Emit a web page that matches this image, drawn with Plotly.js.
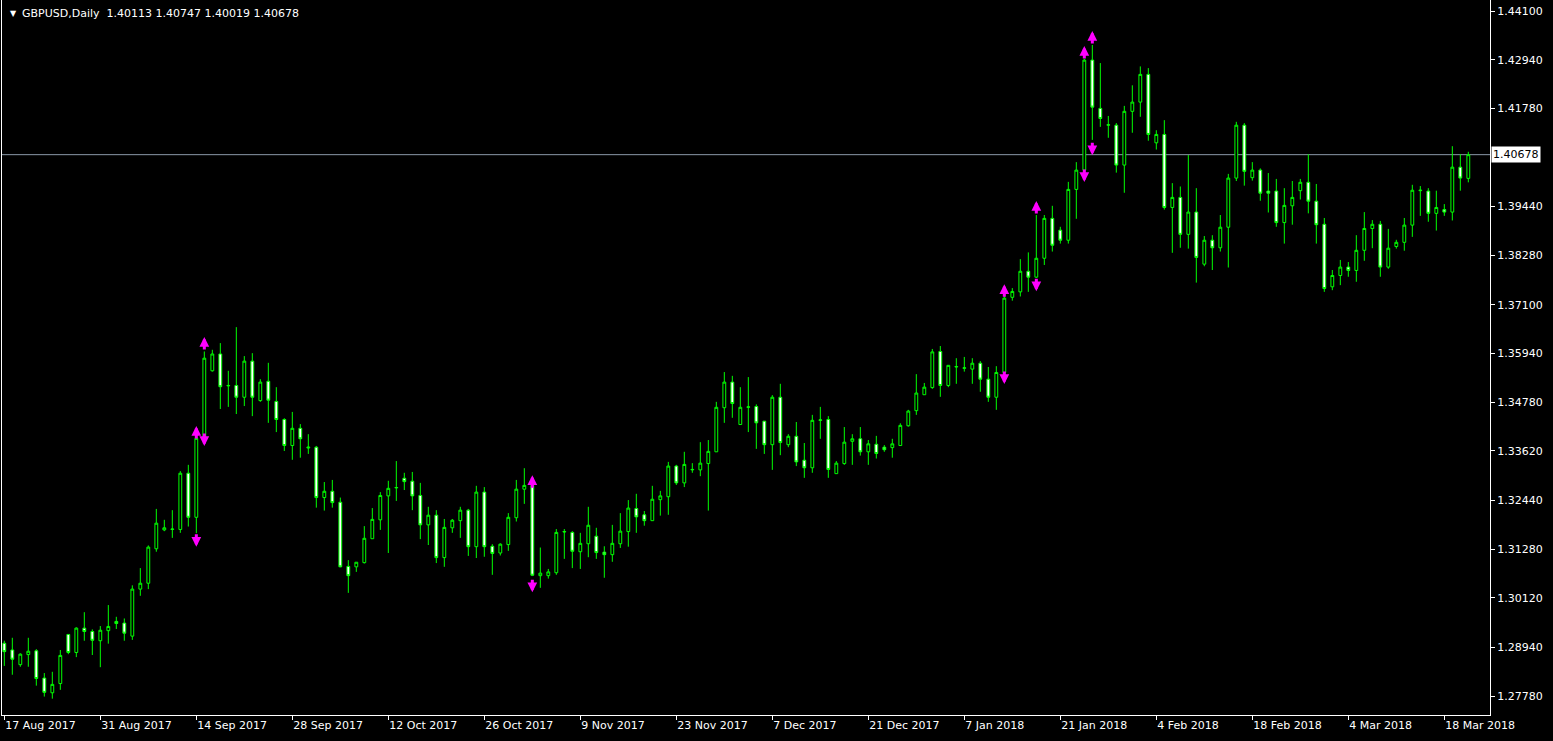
<!DOCTYPE html>
<html><head><meta charset="utf-8">
<script src="https://cdn.plot.ly/plotly-3.0.1.min.js"></script>
<style>html,body{margin:0;padding:0;background:#000;overflow:hidden}#chart{width:1553px;height:741px}</style>
</head><body><div id="chart"></div>
<script>
const symbolName = 'GBPUSD,Daily';
const lastOHLC = [1.40113, 1.40747, 1.40019, 1.40678];
const lastPrice = 1.40678;

const openP = [1.2904,1.2888,1.2853,1.2877,1.2886,1.2821,1.2786,1.2808,1.2925,1.2882,
1.2940,1.2932,1.2910,1.2934,1.2956,1.2952,1.2921,1.3033,1.3047,1.3129,
1.3174,1.3175,1.3175,1.3309,1.3204,1.3392,1.3553,1.3593,1.3517,1.3518,
1.3490,1.3576,1.3482,1.3528,1.3480,1.3437,1.3375,1.3416,1.3369,1.3371,
1.3251,1.3266,1.3240,1.3087,1.3086,1.3096,1.3153,1.3198,1.3255,1.3274,
1.3297,1.3290,1.3256,1.3186,1.3209,1.3108,1.3179,1.3196,1.3221,1.3134,
1.3264,1.3135,1.3119,1.3139,1.3203,1.3271,1.3280,1.3065,1.3065,1.3072,
1.3169,1.3168,1.3122,1.3141,1.3159,1.3121,1.3115,1.3141,1.3170,1.3225,
1.3210,1.3196,1.3246,1.3253,1.3326,1.3286,1.3317,1.3317,1.3332,1.3360,
1.3465,1.3526,1.3425,1.3466,1.3468,1.3433,1.3377,1.3490,1.3377,1.3397,
1.3340,1.3322,1.3435,1.3437,1.3308,1.3332,1.3385,1.3391,1.3360,1.3378,
1.3371,1.3370,1.3375,1.3422,1.3458,1.3496,1.3513,1.3599,1.3518,1.3562,
1.3559,1.3557,1.3571,1.3533,1.3490,1.3549,1.3728,1.3741,1.3790,1.3776,
1.3821,1.3916,1.3888,1.3864,1.3985,1.4031,1.4293,1.4178,1.4138,1.4138,
1.4043,1.4171,1.4193,1.4259,1.4096,1.4116,1.3942,1.3966,1.3878,1.3931,
1.3807,1.3864,1.3846,1.3895,1.4012,1.4138,1.4013,1.4031,1.3981,1.3981,
1.3906,1.3946,1.3982,1.4002,1.3957,1.3902,1.3753,1.3780,1.3800,1.3792,
1.3840,1.3892,1.3902,1.3800,1.3849,1.3859,1.3900,1.3982,1.3981,1.3928,
1.3937,1.3931,1.4038,1.40113];

const highP = [1.2910,1.2917,1.2880,1.2917,1.2890,1.2833,1.2836,1.2888,1.2925,1.2942,
1.2978,1.2937,1.2945,1.2995,1.2967,1.2963,1.3042,1.3083,1.3137,1.3224,
1.3198,1.3221,1.3314,1.3329,1.3396,1.3599,1.3603,1.3619,1.3553,1.3657,
1.3588,1.3595,1.3533,1.3572,1.3514,1.3440,1.3455,1.3426,1.3402,1.3374,
1.3288,1.3293,1.3251,1.3102,1.3097,1.3183,1.3226,1.3264,1.3291,1.3338,
1.3310,1.3312,1.3286,1.3229,1.3221,1.3200,1.3200,1.3229,1.3224,1.3279,
1.3276,1.3140,1.3142,1.3214,1.3293,1.3321,1.3281,1.3132,1.3081,1.3176,
1.3176,1.3171,1.3167,1.3229,1.3179,1.3135,1.3186,1.3214,1.3245,1.3260,
1.3219,1.3279,1.3267,1.3336,1.3329,1.3360,1.3333,1.3383,1.3388,1.3479,
1.3550,1.3541,1.3514,1.3538,1.3473,1.3433,1.3495,1.3522,1.3402,1.3431,
1.3381,1.3448,1.3467,1.3445,1.3338,1.3419,1.3402,1.3419,1.3388,1.3398,
1.3376,1.3391,1.3428,1.3460,1.3545,1.3524,1.3605,1.3612,1.3566,1.3583,
1.3586,1.3583,1.3576,1.3562,1.3564,1.3731,1.3750,1.3819,1.3835,1.3924,
1.3924,1.3946,1.3896,1.4003,1.4050,1.4296,1.4329,1.4286,1.4160,1.4143,
1.4184,1.4233,1.4278,1.4274,1.4126,1.4150,1.4000,1.3992,1.4067,1.3988,
1.3874,1.3876,1.3924,1.4022,1.4146,1.4143,1.4050,1.4035,1.4024,1.4010,
1.3988,1.4005,1.4010,1.4069,1.3998,1.3917,1.3793,1.3817,1.3812,1.3876,
1.3931,1.3912,1.3910,1.3891,1.3865,1.3917,1.3996,1.3993,1.3988,1.3982,
1.3950,1.4088,1.4069,1.40747];

const lowP = [1.2850,1.2829,1.2848,1.2848,1.2803,1.2777,1.2772,1.2793,1.2878,1.2871,
1.2910,1.2876,1.2847,1.2903,1.2938,1.2910,1.2912,1.3017,1.3033,1.3122,
1.3171,1.3155,1.3167,1.3182,1.3166,1.3384,1.3551,1.3462,1.3467,1.3450,
1.3469,1.3445,1.3479,1.3429,1.3407,1.3362,1.3341,1.3346,1.3355,1.3227,
1.3220,1.3227,1.3085,1.3024,1.3074,1.3094,1.3153,1.3174,1.3119,1.3243,
1.3269,1.3221,1.3152,1.3138,1.3095,1.3086,1.3167,1.3155,1.3112,1.3107,
1.3110,1.3067,1.3113,1.3124,1.3194,1.3236,1.3064,1.3036,1.3058,1.3067,
1.3105,1.3083,1.3081,1.3109,1.3105,1.3060,1.3098,1.3131,1.3134,1.3167,
1.3184,1.3196,1.3208,1.3210,1.3281,1.3276,1.3310,1.3302,1.3220,1.3360,
1.3429,1.3441,1.3425,1.3407,1.3367,1.3355,1.3317,1.3352,1.3371,1.3326,
1.3298,1.3310,1.3391,1.3298,1.3308,1.3329,1.3329,1.3351,1.3329,1.3344,
1.3360,1.3346,1.3375,1.3420,1.3448,1.3496,1.3510,1.3491,1.3514,1.3522,
1.3551,1.3522,1.3503,1.3479,1.3460,1.3548,1.3720,1.3730,1.3741,1.3774,
1.3805,1.3837,1.3856,1.3856,1.3915,1.4029,1.4103,1.4134,1.4108,1.4025,
1.3977,1.4120,1.4158,1.4101,1.4080,1.3937,1.3834,1.3846,1.3844,1.3763,
1.3802,1.3793,1.3837,1.3799,1.4005,1.3994,1.4006,1.3958,1.3930,1.3896,
1.3856,1.3901,1.3961,1.3928,1.3856,1.3741,1.3745,1.3757,1.3777,1.3765,
1.3815,1.3845,1.3777,1.3796,1.3844,1.3839,1.3872,1.3922,1.3908,1.3887,
1.3922,1.3911,1.3982,1.40019];

const closeP = [1.2884,1.2866,1.2878,1.2885,1.2820,1.2787,1.2806,1.2875,1.2882,1.2940,
1.2932,1.2911,1.2935,1.2944,1.2951,1.2928,1.3033,1.3047,1.3133,1.3190,
1.3179,1.3176,1.3309,1.3204,1.3392,1.3583,1.3593,1.3515,1.3518,1.3490,
1.3576,1.3490,1.3526,1.3483,1.3437,1.3375,1.3416,1.3391,1.3371,1.3251,
1.3266,1.3239,1.3086,1.3065,1.3097,1.3154,1.3199,1.3256,1.3273,1.3275,
1.3289,1.3255,1.3186,1.3209,1.3108,1.3180,1.3197,1.3221,1.3134,1.3264,
1.3134,1.3118,1.3140,1.3204,1.3271,1.3280,1.3066,1.3071,1.3074,1.3168,
1.3170,1.3123,1.3142,1.3185,1.3120,1.3115,1.3142,1.3171,1.3226,1.3205,
1.3196,1.3247,1.3255,1.3326,1.3286,1.3330,1.3318,1.3333,1.3361,1.3466,
1.3526,1.3475,1.3466,1.3467,1.3429,1.3377,1.3490,1.3382,1.3397,1.3336,
1.3322,1.3435,1.3436,1.3318,1.3333,1.3383,1.3391,1.3360,1.3379,1.3356,
1.3365,1.3379,1.3423,1.3457,1.3500,1.3514,1.3598,1.3518,1.3566,1.3563,
1.3560,1.3571,1.3533,1.3490,1.3549,1.3726,1.3742,1.3790,1.3776,1.3821,
1.3916,1.3852,1.3864,1.3985,1.4031,1.4293,1.4181,1.4154,1.4139,1.4043,
1.4171,1.4193,1.4259,1.4116,1.4116,1.3942,1.3966,1.3878,1.3931,1.3823,
1.3864,1.3846,1.3895,1.4012,1.4138,1.4028,1.4031,1.3976,1.3976,1.3906,
1.3947,1.3966,1.4002,1.3957,1.3901,1.3749,1.3780,1.3800,1.3792,1.3840,
1.3892,1.3902,1.3800,1.3845,1.3859,1.3900,1.3983,1.3983,1.3928,1.3942,
1.3931,1.4038,1.4012,1.40678];

const tickBars = [0,12,24,36,48,60,72,84,96,108,120,132,144,156,168,180];
const tickLabels = ['17 Aug 2017','31 Aug 2017','14 Sep 2017','28 Sep 2017','12 Oct 2017','26 Oct 2017',
'9 Nov 2017','23 Nov 2017','7 Dec 2017','21 Dec 2017','7 Jan 2018','21 Jan 2018',
'4 Feb 2018','18 Feb 2018','4 Mar 2018','18 Mar 2018'];
const priceTicks = [1.27780,1.28940,1.30120,1.31280,1.32440,1.33620,1.34780,1.35940,1.37100,1.38280,1.39440,1.41780,1.42940,1.44100];

const arrowBars = [24,25,66,125,129,135,136];
const upArrowPrice = [1.3388,1.3600,1.3271,1.3726,1.3924,1.4293,1.4329];
const downArrowPrice = [1.3167,1.3407,1.3059,1.3555,1.3776,1.4036,1.4100];

const bars = openP.map((_, i) => i);
const FONT = 'DejaVu Sans, Tahoma, sans-serif';
const MAGENTA = '#ff00ff';
const ARROW_LEN = 14;

const traces = [
  {
    type: 'candlestick', x: bars, open: openP, high: highP, low: lowP, close: closeP,
    increasing: {line: {color: '#00ff00', width: 1}, fillcolor: '#000000'},
    decreasing: {line: {color: '#00ff00', width: 1}, fillcolor: '#ffffff'},
    whiskerwidth: 0, hoverinfo: 'skip', showlegend: false
  }
];

const arrowAnnotations = [];
arrowBars.forEach((b, k) => {
  arrowAnnotations.push({
    x: b, y: upArrowPrice[k], xref: 'x', yref: 'y', text: '', showarrow: true,
    ax: 0, ay: ARROW_LEN, yshift: ARROW_LEN, arrowhead: 2, arrowwidth: 3, arrowsize: 0.65,
    arrowcolor: MAGENTA, standoff: 0, startstandoff: 0
  });
  arrowAnnotations.push({
    x: b, y: downArrowPrice[k], xref: 'x', yref: 'y', text: '', showarrow: true,
    ax: 0, ay: -ARROW_LEN, yshift: -ARROW_LEN, arrowhead: 2, arrowwidth: 3, arrowsize: 0.65,
    arrowcolor: MAGENTA, standoff: 0, startstandoff: 0
  });
});

const layout = {
  width: 1553, height: 741,
  paper_bgcolor: '#000000', plot_bgcolor: '#000000',
  margin: {l: 2, r: 63, t: 0, b: 26, pad: 0},
  boxgap: 0.5,
  showlegend: false,
  title: {
    text: symbolName + '\u00a0\u00a0' + lastOHLC.map(v => v.toFixed(5)).join(' '),
    xref: 'container', yref: 'container', x: 22 / 1553, xanchor: 'left', y: 1 - 13 / 741, yanchor: 'middle',
    font: {color: '#ffffff', size: 11, family: FONT}
  },
  xaxis: {
    range: [-0.29, 185.71], rangeslider: {visible: false},
    tickvals: tickBars, ticktext: tickLabels, tickmode: 'array',
    ticks: 'outside', ticklen: 4, tickcolor: '#ffffff', ticklabelposition: 'outside right',
    tickfont: {color: '#ffffff', size: 11, family: FONT},
    showgrid: false, zeroline: false, showline: true, linecolor: '#ffffff', linewidth: 1,
    fixedrange: true
  },
  yaxis: {
    side: 'right', range: [1.27331, 1.44362],
    tickvals: priceTicks, ticktext: priceTicks.map(v => v.toFixed(5)), tickmode: 'array',
    ticks: 'outside', ticklen: 4, tickcolor: '#ffffff',
    tickfont: {color: '#ffffff', size: 11, family: FONT},
    showgrid: false, zeroline: false, showline: true, mirror: true, linecolor: '#ffffff', linewidth: 1,
    fixedrange: true
  },
  shapes: [{
    type: 'line', xref: 'paper', x0: 0, x1: 1, yref: 'y', y0: lastPrice, y1: lastPrice,
    line: {color: '#8a98a8', width: 1}, layer: 'below'
  }],
  annotations: [
    {xref: 'paper', x: 1, xanchor: 'left', xshift: 1, yref: 'y', y: lastPrice, yanchor: 'middle',
     text: lastPrice.toFixed(5), showarrow: false, bgcolor: '#ffffff', borderpad: 1,
     font: {color: '#000000', size: 11, family: FONT}},
    {xref: 'paper', x: 0.004, xanchor: 'left', yref: 'paper', y: 1 - 13 / 715, yanchor: 'middle',
     text: '\u25BC', showarrow: false, font: {color: '#ffffff', size: 8, family: FONT}}
  ].concat(arrowAnnotations)
};

Plotly.newPlot('chart', traces, layout, {displayModeBar: false, staticPlot: true});
</script>
</body></html>
